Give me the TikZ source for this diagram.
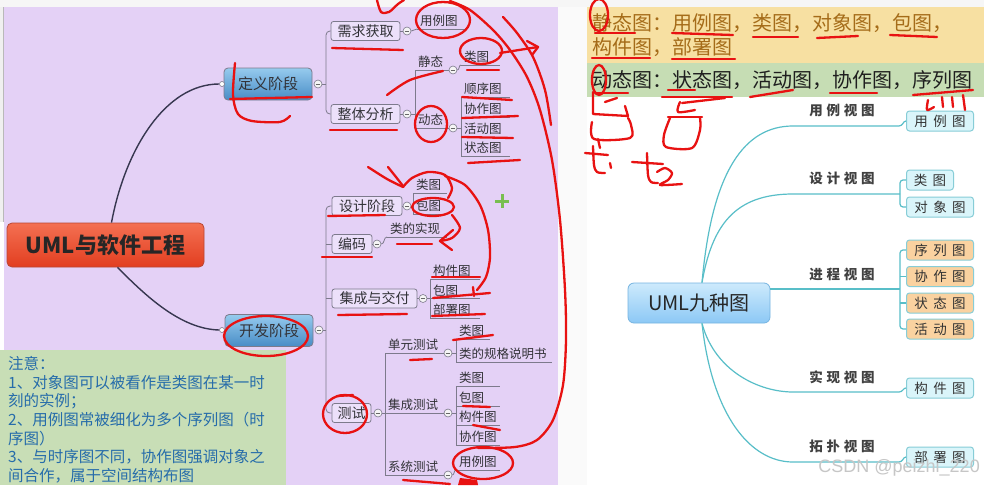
\documentclass[tikz,border=0pt]{standalone}
\usepackage{fontspec}
\setmainfont{Liberation Sans}
\newfontfamily\cjk{Noto Sans CJK SC}
\newfontfamily\cjksp[LetterSpace=28]{Noto Sans CJK SC}
\newfontfamily\cjkleaf[LetterSpace=40]{Noto Sans CJK SC}
\definecolor{lav}{RGB}{228,209,246}
\definecolor{lavbox}{RGB}{236,224,250}
\definecolor{mmgray}{RGB}{125,122,140}
\definecolor{rootline}{RGB}{55,55,80}
\definecolor{noteg}{RGB}{200,222,182}
\definecolor{notet}{RGB}{38,108,170}
\definecolor{yel}{RGB}{247,224,162}
\definecolor{yeltext}{RGB}{165,108,25}
\definecolor{grn}{RGB}{198,221,180}
\definecolor{tealc}{RGB}{88,190,200}
\definecolor{leafc}{RGB}{218,245,250}
\definecolor{leafd}{RGB}{135,205,215}
\definecolor{leafo}{RGB}{250,210,160}
\definecolor{ink}{RGB}{232,18,18}
\definecolor{txt}{RGB}{50,50,55}
\definecolor{bluetop}{RGB}{150,203,238}
\definecolor{bluebot}{RGB}{72,140,198}
\definecolor{redtop}{RGB}{244,112,82}
\definecolor{redbot}{RGB}{226,62,32}
\definecolor{redbd}{RGB}{185,70,50}
\definecolor{rtop}{RGB}{205,234,252}
\definecolor{rbot}{RGB}{140,200,245}
\definecolor{rbd}{RGB}{118,180,225}
\definecolor{plusg}{RGB}{120,190,80}
\tikzset{
  mmline/.style={draw=mmgray, line width=0.8pt},
  topicbox/.style={draw=mmgray, fill=lavbox, rounded corners=2.5pt, line width=0.8pt, minimum height=19pt, inner xsep=4pt, inner ysep=0pt, font=\cjk\fontsize{14}{14}\selectfont, text=txt},
  subn/.style={anchor=south west, inner xsep=3pt, inner ysep=2pt, text width=#1, font=\cjk\fontsize{12.5}{13}\selectfont, text=txt},
  colc/.style={circle, draw=mmgray, fill=gray!8, line width=0.6pt, minimum size=8pt, inner sep=0pt, path picture={\draw[line width=0.9pt, black!60] ([xshift=-2.2pt]path picture bounding box.center) -- ([xshift=2.2pt]path picture bounding box.center);}},
  enddot/.style={circle, draw=mmgray, fill=white, minimum size=5pt, inner sep=0pt, line width=0.6pt},
  phase/.style={rounded corners=4pt, minimum width=88pt, minimum height=32pt, draw=mmgray, line width=0.8pt, top color=bluetop, bottom color=bluebot, font=\cjk\fontsize{15}{15}\selectfont, text=txt},
  rootbox/.style={rounded corners=5pt, minimum width=197pt, minimum height=44pt, draw=redbd, line width=0.8pt, top color=redtop, bottom color=redbot, font=\cjk\fontsize{22}{22}\selectfont\bfseries, text=black!85},
  rline/.style={draw=rootline, line width=1.4pt},
  rroot/.style={rounded corners=6pt, minimum width=142pt, minimum height=40pt, draw=rbd, line width=0.8pt, top color=rtop, bottom color=rbot, font=\cjk\fontsize{20}{20}\selectfont, text=black!85},
  tealline/.style={draw=tealc, line width=1.2pt},
  vlabel/.style={font=\cjksp\fontsize{13.5}{14}\selectfont\bfseries, text=black!75, inner sep=0pt},
  leafbox/.style={anchor=west, rounded corners=3pt, draw=leafd, fill=leafc, line width=1pt, minimum height=20pt, inner sep=0pt, font=\cjkleaf\fontsize{13.5}{14}\selectfont, text=black!80},
  inkl/.style={draw=ink, line width=2.3pt, line cap=round, line join=round},
}
\newcommand\mmsub[4]{\node[subn=#4] (#1) at (#2) {#3}; \draw[mmline] (#1.south west) -- (#1.south east);}
\begin{document}
\begin{tikzpicture}[x=1pt,y=-1pt]
\useasboundingbox (0,0) rectangle (984,485);
\fill[white] (0,0) rectangle (984,485);
\fill[gray!7] (0,0) rectangle (984,7);
\fill[gray!4] (558,7) rectangle (587,485);
\fill[lav] (4,7) rectangle (558,485);
\fill[gray!12] (0,7) rectangle (4,222);
\draw[gray!55, line width=0.8pt] (3.5,7) -- (3.5,222);

% ---------------- left mind map ----------------
\node[rootbox] (root) at (105.5,245) {UML与软件工程};
\node[phase] (def) at (268,84) {定义阶段};
\node[phase] (dev) at (269,330.5) {开发阶段};
\node[enddot] (defin) at (222,84) {};
\node[enddot] (devin) at (222,330) {};
\node[colc] (defc) at (318,84) {};
\node[colc] (devc) at (319,330) {};
\draw[rline] ([xshift=6pt]root.north) .. controls (125,150) and (165,84) .. (defin.west);
\draw[rline] ([xshift=12pt]root.south) .. controls (145,295) and (180,329) .. (devin.west);

% 定义阶段 branch
\node[topicbox, minimum width=69pt] (xq) at (365.5,31) {需求获取};
\node[topicbox, minimum width=69pt] (zt) at (365.5,114) {整体分析};
\node[colc] (xqc) at (407,31) {};
\node[colc] (ztc) at (407,114) {};
\draw[mmline, rounded corners=4pt] (xq.west) -- (326,31) -- (326,114) -- (zt.west);
\draw[mmline] (defc.east) -- (326,84);
\draw[mmline] (xq.east) -- (xqc.west);
\draw[mmline] (zt.east) -- (ztc.west);
\mmsub{yl1}{417,29}{用例图}{42pt}
\draw[mmline] (xqc.east) to[out=0,in=180] (yl1.south west);
\mmsub{jt}{415,70}{静态}{26pt}
\mmsub{dt}{415,128}{动态}{26pt}
\draw[mmline, rounded corners=3pt] (jt.south west) -- (dt.south west);
\draw[mmline] (ztc.east) -- (415,114);
\node[colc] (jtc) at (453,70) {};
\node[colc] (dtc) at (453,128) {};
\draw[mmline] (jt.south east) -- (jtc.west);
\draw[mmline] (dt.south east) -- (dtc.west);
\mmsub{lt1}{461,65}{类图}{33pt}
\draw[mmline] (jtc.east) to[out=0,in=180] (lt1.south west);
\mmsub{sx}{461,97}{顺序图}{43pt}
\mmsub{xz1}{461,117}{协作图}{43pt}
\mmsub{hd}{461,137}{活动图}{43pt}
\mmsub{zt1}{461,156}{状态图}{43pt}
\draw[mmline, rounded corners=3pt] (sx.south west) -- (zt1.south west);
\draw[mmline] (dtc.east) -- (461,128);

% 开发阶段 branch
\node[topicbox, minimum width=70pt] (sj) at (367,206) {设计阶段};
\node[topicbox, minimum width=40pt] (bm) at (352,244) {编码};
\node[topicbox, minimum width=85pt] (jc) at (374.5,298.5) {集成与交付};
\node[topicbox, minimum width=39pt] (cs) at (351.5,413) {测试};
\node[colc] (sjc) at (407,206) {};
\node[colc] (bmc) at (377,244) {};
\node[colc] (jcc) at (423,298.5) {};
\node[colc] (csc) at (378,413) {};
\draw[mmline, rounded corners=4pt] (sj.west) -- (326,206) -- (326,413) -- (cs.west);
\draw[mmline] (bm.west) -- (326,244);
\draw[mmline] (jc.west) -- (326,298.5);
\draw[mmline] (devc.east) -- (326,330);
\draw[mmline] (sj.east) -- (sjc.west);
\draw[mmline] (bm.east) -- (bmc.west);
\draw[mmline] (jc.east) -- (jcc.west);
\draw[mmline] (cs.east) -- (csc.west);
\mmsub{sl1}{413,193}{类图}{28pt}
\mmsub{sl2}{413,214}{包图}{28pt}
\draw[mmline, rounded corners=3pt] (sl1.south west) -- (sl2.south west);
\draw[mmline] (sjc.east) -- (413,206);
\mmsub{ks}{387,237}{类的实现}{54pt}
\draw[mmline] (bmc.east) to[out=0,in=180] (ks.south west);
\mmsub{jc1}{430,279}{构件图}{44pt}
\mmsub{jc2}{430,298.5}{包图}{44pt}
\mmsub{jc3}{430,318}{部署图}{44pt}
\draw[mmline, rounded corners=3pt] (jc1.south west) -- (jc3.south west);
\draw[mmline] (jcc.east) -- (jc2.south west);
\mmsub{dy}{385,353}{单元测试}{52pt}
\mmsub{jt2}{385,413}{集成测试}{52pt}
\mmsub{xt}{385,475}{系统测试}{52pt}
\draw[mmline, rounded corners=3pt] (dy.south west) -- (xt.south west);
\draw[mmline] (csc.east) -- (jt2.south west);
\node[colc] (dyc) at (448,353) {};
\node[colc] (jt2c) at (448,413) {};
\node[colc] (xtc) at (448,475) {};
\draw[mmline] (dy.south east) -- (dyc.west);
\draw[mmline] (jt2.south east) -- (jt2c.west);
\draw[mmline] (xt.south east) -- (xtc.west);
\mmsub{d1}{456,339}{类图}{28pt}
\mmsub{d2}{456,362}{类的规格说明书}{90pt}
\draw[mmline, rounded corners=3pt] (d1.south west) -- (d2.south west);
\draw[mmline] (dyc.east) -- (456,353);
\mmsub{j1}{456,386}{类图}{38pt}
\mmsub{j2}{456,406}{包图}{38pt}
\mmsub{j3}{456,425}{构件图}{38pt}
\mmsub{j4}{456,445}{协作图}{38pt}
\draw[mmline, rounded corners=3pt] (j1.south west) -- (j4.south west);
\draw[mmline] (jt2c.east) -- (456,413);
\mmsub{x1}{456,470}{用例图}{38pt}
\draw[mmline] (xtc.east) to[out=0,in=180] (x1.south west);

% note box
\fill[noteg] (0,350) rectangle (286,485);
\node[anchor=north west, align=left, inner sep=0pt, font=\cjk\fontsize{15.5}{18.7}\selectfont, text=notet] (note) at (8,356)
 {注意：\\1、对象图可以被看作是类图在某一时\\刻的实例；\\2、用例图常被细化为多个序列图（时\\序图）\\3、与时序图不同，协作图强调对象之\\间合作，属于空间结构布图};

% green plus
\draw[plusg, line width=3pt] (495,201) -- (509,201) (502,194) -- (502,208);

% ---------------- right panel ----------------
\fill[yel] (587,7) rectangle (984,63);
\fill[grn] (587,63) rectangle (984,97);
\node[anchor=west, inner sep=0pt, font=\cjk\fontsize{20}{20}\selectfont, text=yeltext] (st1) at (592,23) {静态图：用例图，类图，对象图，包图，};
\node[anchor=west, inner sep=0pt, font=\cjk\fontsize{20}{20}\selectfont, text=yeltext] (st2) at (592,47) {构件图，部署图};
\node[anchor=west, inner sep=0pt, font=\cjk\fontsize{20}{20}\selectfont, text=black!88] (dyn) at (592,80) {动态图：状态图，活动图，协作图，序列图};

\node[rroot] (r) at (699,303) {UML九种图};
\node[vlabel] (v1) at (842,110) {用例视图};
\node[vlabel] (v2) at (842,178) {设计视图};
\node[vlabel] (v3) at (842,274) {进程视图};
\node[vlabel] (v4) at (842,377) {实现视图};
\node[vlabel] (v5) at (842,446) {拓扑视图};

\node[leafbox, minimum width=67pt] (ly) at (906,121) {用例图};
\node[leafbox, minimum width=47pt] (lc) at (906,180) {类图};
\node[leafbox, minimum width=67pt] (ldx) at (906,207) {对象图};
\node[leafbox, minimum width=67pt, fill=leafo] (p1) at (906,250) {序列图};
\node[leafbox, minimum width=67pt, fill=leafo] (p2) at (906,276.5) {协作图};
\node[leafbox, minimum width=67pt, fill=leafo] (p3) at (906,303) {状态图};
\node[leafbox, minimum width=67pt, fill=leafo] (p4) at (906,329) {活动图};
\node[leafbox, minimum width=67pt] (gj) at (906,388) {构件图};
\node[leafbox, minimum width=67pt] (bs) at (906,457) {部署图};

\draw[tealline] ([xshift=3pt]r.north) .. controls (712,170) and (745,126) .. (793,126) -- (899,126) .. controls (903,126) and (903,121) .. (ly.west);
\draw[tealline] ([xshift=3pt]r.north) .. controls (712,225) and (735,194) .. (793,194) -- (900,194);
\draw[tealline, rounded corners=3pt] (lc.west) -- (900,180) -- (900,207) -- (ldx.west);
\draw[tealline] ([yshift=14pt]r.east) -- (900,289);
\draw[tealline, rounded corners=3pt] (p1.west) -- (900,250) -- (900,329) -- (p4.west);
\draw[tealline] (p2.west) -- (900,276.5);
\draw[tealline] (p3.west) -- (900,303);
\draw[tealline] ([xshift=3pt]r.south) .. controls (715,372) and (760,392) .. (793,392) -- (899,392) .. controls (903,392) and (903,388) .. (gj.west);
\draw[tealline] ([xshift=3pt]r.south) .. controls (712,415) and (750,462) .. (793,462) -- (899,462) .. controls (903,462) and (903,457) .. (bs.west);

\node[anchor=east, inner sep=0pt, font=\fontsize{18}{18}\selectfont, text=gray!45] (wm) at (980,468) {CSDN @peizhi\_220};

% ---------------- red ink annotations ----------------
\draw[inkl] plot[smooth] coordinates {(235,63) (233,95) (238,114) (252,121) (280,122) (290,116)};
\draw[inkl] (230,99) -- (312,97);
\draw[inkl] (266,336) ellipse [x radius=42pt, y radius=20pt];
\draw[inkl] plot[smooth] coordinates {(377,0) (381,12) (389,12) (398,4) (404,0)};
\draw[inkl] (443,20) ellipse [x radius=27pt, y radius=18pt];
\draw[inkl] plot[smooth] coordinates {(450,1) (470,10) (493,30) (510,50) (527,77) (540,110) (552,160) (560,220) (565,290) (566,340) (563,385) (553,420) (537,440) (515,447) (478,448)};
\draw[inkl] plot[smooth] coordinates {(503,17) (517,33) (533,57) (545,90) (551,125)};
\draw[inkl] (481,51) ellipse [x radius=21pt, y radius=13pt];
\draw[inkl] (500,53) -- (538,47);
\draw[inkl] (527,41) -- (538,47) -- (532,55);
\draw[inkl] (332,48) -- (403,50);
\draw[inkl] (467,70) -- (499,70);
\draw[inkl] plot[smooth] coordinates {(387,95) (410,80) (443,71)};
\draw[inkl] (431,124) ellipse [x radius=16pt, y radius=18pt];
\draw[inkl] (462,97) -- (512,100);
\draw[inkl] (462,118) -- (518,116);
\draw[inkl] (462,137) -- (513,138);
\draw[inkl] (468,163) -- (520,160);
\draw[inkl] (330,130) -- (397,130);
\draw[inkl] plot[smooth] coordinates {(368,167) (387,179) (403,187)};
\draw[inkl] plot[smooth] coordinates {(388,167) (396,177) (403,186)};
\draw[inkl] plot[smooth] coordinates {(403,187) (412,178) (428,172) (445,175) (452,188) (448,198)};
\draw[inkl] (433,207) ellipse [x radius=21pt, y radius=9pt];
\draw[inkl] plot[smooth] coordinates {(445,176) (465,185) (480,205) (488,230) (490,257) (486,277) (477,290)};
\draw[inkl] plot[smooth] coordinates {(452,215) (460,228) (452,238) (440,241)};
\draw[inkl] (453,230) -- (440,241) -- (452,250);
\draw[inkl] (328,216) -- (385,215);
\draw[inkl] (322,257) -- (372,257);
\draw[inkl] (397,244) -- (432,244);
\draw[inkl] (432,277) -- (480,277);
\draw[inkl] (433,298) -- (490,293);
\draw[inkl] (473,287) -- (474,296);
\draw[inkl] (432,316) -- (485,314);
\draw[inkl] (338,315) -- (407,314);
\draw[inkl] (453,340) -- (493,335);
\draw[inkl] (410,360) -- (432,359);
\draw[inkl] (345,414) ellipse [x radius=22pt, y radius=19pt];
\draw[inkl] (337,396) -- (353,395);
\draw[inkl] (463,406) -- (490,407);
\draw[inkl] (473,425) -- (500,430);
\draw[inkl] (483,463) ellipse [x radius=30pt, y radius=16pt];
\draw[inkl] (403,480) -- (450,484);
\fill[ink] (460,478) -- (477,480) -- (478,485) -- (458,485) -- cycle;
% right side
\draw[inkl] (599,15) ellipse [x radius=9pt, y radius=16pt];
\draw[inkl] (595,33) -- (635,33);
\draw[inkl] (672,33) -- (733,35);
\draw[inkl] (753,37) -- (798,37);
\draw[inkl] (817,38) -- (858,36);
\draw[inkl] (890,35) -- (937,37);
\draw[inkl] (592,58) -- (650,58);
\draw[inkl] (672,59) -- (735,59);
\draw[inkl] (599,80) ellipse [x radius=7pt, y radius=15pt];
\draw[inkl] (595,93) -- (628,93);
\draw[inkl] (668,90) -- (695,90);
\draw[inkl] (662,97) -- (732,97);
\draw[inkl] (750,97) -- (793,90);
\draw[inkl] (830,93) -- (877,93);
\draw[inkl] (913,95) -- (973,90);
\draw[inkl] plot[smooth] coordinates {(928,100) (927,110) (934,107)};
\draw[inkl] (942,97) -- (943,107);
\draw[inkl] (952,97) -- (953,107);
\draw[inkl] (963,95) -- (965,110);
\draw[inkl] (593,92) -- (593,114) -- (628,116) -- (625,106);
\draw[inkl] (605,102) -- (617,98);
\draw[inkl] plot[smooth] coordinates {(628,118) (631,125) (630,138) (594,139) (592,122)};
\draw[inkl] (598,139) -- (600,148);
\draw[inkl] (585,153) -- (608,155);
\draw[inkl] plot[smooth] coordinates {(593,146) (594,165) (597,172) (605,173)};
\draw[inkl] (610,163) -- (611,168);
\draw[inkl] (632,162) -- (663,164);
\draw[inkl] plot[smooth] coordinates {(647,153) (648,175) (651,182) (658,183)};
\draw[inkl] plot[smooth] coordinates {(657,172) (665,168) (672,173) (668,180) (660,185) (682,184)};
\draw[inkl] (682,103) -- (725,98);
\draw[inkl] plot[smooth] coordinates {(680,102) (678,112) (695,110)};
\draw[inkl] (668,117) -- (702,117);
\draw[inkl] plot[smooth] coordinates {(670,118) (664,135) (666,147) (692,148) (700,130) (700,118)};
\end{tikzpicture}
\end{document}
